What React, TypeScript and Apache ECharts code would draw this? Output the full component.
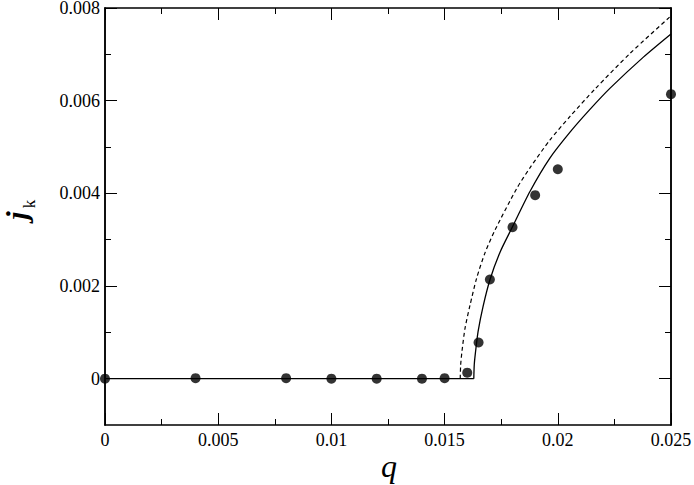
import React, { useEffect, useRef } from "react";
import * as echarts from "echarts";

// Simulation points (q, j_k)
const pointQ = [0, 0.004, 0.008, 0.01, 0.012, 0.014, 0.015, 0.016, 0.0165, 0.017, 0.018, 0.019, 0.02, 0.025];
const pointJ = [0, 0.00001, 0.00001, 0, 0, 0, 0.00001, 0.00013, 0.00078, 0.00214, 0.00327, 0.00396, 0.00452, 0.00614];

// Solid theory curve
const solidQ = [0, 0.01629, 0.01631, 0.01636, 0.01648, 0.0167, 0.017, 0.01744, 0.01796, 0.01877, 0.01965, 0.02054, 0.0214, 0.02231, 0.02378, 0.025];
const solidJ = [0, 0, 0.0003, 0.00055, 0.00102, 0.00156, 0.00213, 0.00272, 0.00324, 0.00404, 0.00476, 0.00532, 0.0058, 0.00627, 0.00694, 0.00744];

// Dashed theory curve
const dashQ = [0.01569, 0.01571, 0.01577, 0.0159, 0.01612, 0.01641, 0.01678, 0.01722, 0.01818, 0.01877, 0.01965, 0.02054, 0.02164, 0.02319, 0.025];
const dashJ = [0, 0.0003, 0.0006, 0.00108, 0.00158, 0.00216, 0.00271, 0.0032, 0.0041, 0.00455, 0.00515, 0.00566, 0.00625, 0.00702, 0.00783];

const xTicks = [0, 0.005, 0.01, 0.015, 0.02, 0.025];
const yMajor = [0, 0.002, 0.004, 0.006, 0.008];
const yMinor = [0.001, 0.003, 0.005, 0.007];

const FONT = "Liberation Serif, Times New Roman, serif";

export default function App() {
  const ref = useRef<HTMLDivElement>(null);
  useEffect(() => {
    if (!ref.current) return;
    const chart = echarts.init(ref.current, null, { renderer: "svg" });
    const fmt = (v: number) => (Math.abs(v) < 1e-12 ? "0" : String(+v.toFixed(4)));
    const lineCommon = { show: true, onZero: false, lineStyle: { color: "#000", width: 1.5 } };
    const xBase = (pos: string, labels: boolean) => ({
      type: "value",
      position: pos,
      min: 0,
      max: 0.025,
      interval: 0.005,
      axisLine: lineCommon,
      axisTick: { show: true, inside: true, length: 12, lineStyle: { color: "#000", width: 1 } },
      minorTick: { show: true, splitNumber: 2, length: 6, lineStyle: { color: "#000", width: 1 } },
      splitLine: { show: false },
      minorSplitLine: { show: false },
      axisLabel: {
        show: labels,
        margin: 6,
        color: "#000",
        fontSize: 18,
        fontFamily: FONT,
        formatter: fmt,
        customValues: xTicks,
      },
    });
    const yBase = (pos: string, labels: boolean, ticks: number[], len: number) => ({
      type: "value",
      position: pos,
      min: -0.001,
      max: 0.008,
      interval: 0.001,
      axisLine: lineCommon,
      axisTick: {
        show: true,
        inside: true,
        length: len,
        customValues: ticks,
        lineStyle: { color: "#000", width: 1 },
      },
      splitLine: { show: false },
      axisLabel: {
        show: labels,
        margin: 5,
        color: "#000",
        fontSize: 18,
        fontFamily: FONT,
        formatter: fmt,
        customValues: yMajor,
      },
    });
    const toPairs = (a: number[], b: number[]) => a.map((v, i) => [v, b[i]]);
    chart.setOption({
      animation: false,
      backgroundColor: "#fff",
      grid: { left: 105, right: 23, top: 8, bottom: 60, containLabel: false, outerBoundsMode: "none" },
      xAxis: [xBase("bottom", true), xBase("top", false)],
      yAxis: [
        yBase("left", true, yMajor, 12),
        yBase("left", false, yMinor, 6),
        yBase("right", false, yMajor, 12),
        yBase("right", false, yMinor, 6),
      ],
      series: [
        {
          type: "line",
          data: toPairs(solidQ.slice(0, 2), solidJ.slice(0, 2)),
          showSymbol: false,
          symbol: "none",
          lineStyle: { color: "#000", width: 1.3 },
          z: 2,
        },
        {
          type: "line",
          data: toPairs(solidQ.slice(1), solidJ.slice(1)),
          showSymbol: false,
          symbol: "none",
          smooth: 0.25,
          lineStyle: { color: "#000", width: 1.3 },
          z: 2,
        },
        {
          type: "line",
          data: toPairs(dashQ, dashJ),
          showSymbol: false,
          symbol: "none",
          smooth: 0.25,
          lineStyle: { color: "#000", width: 1.2, type: [4, 3] },
          z: 2,
        },
        {
          type: "scatter",
          data: toPairs(pointQ, pointJ),
          symbol: "circle",
          symbolSize: 10,
          itemStyle: { color: "#000" },
          z: 3,
        },
      ],
      graphic: [
        {
          type: "text",
          x: 389,
          y: 466,
          style: {
            text: "q",
            font: `italic 32px ${FONT}`,
            fill: "#000",
            align: "center",
            verticalAlign: "middle",
          },
        },
        {
          type: "text",
          x: 16,
          y: 215.5,
          rotation: Math.PI / 2,
          style: {
            text: "j",
            font: `italic bold 30px ${FONT}`,
            fill: "#000",
            align: "center",
            verticalAlign: "middle",
          },
        },
        {
          type: "text",
          x: 29.5,
          y: 204,
          rotation: Math.PI / 2,
          style: {
            text: "k",
            font: `17px ${FONT}`,
            fill: "#000",
            align: "center",
            verticalAlign: "middle",
          },
        },
      ],
    });
    return () => chart.dispose();
  }, []);
  return (
    <div
      ref={ref}
      style={{ position: "fixed", left: 0, top: 0, width: 694, height: 485, background: "#fff" }}
    />
  );
}
